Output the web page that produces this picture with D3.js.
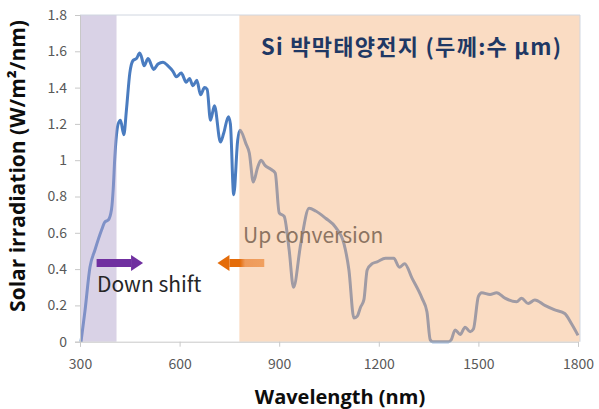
<!DOCTYPE html>
<html><head><meta charset="utf-8">
<script src="https://cdn.jsdelivr.net/npm/d3@7"></script>
<style>body{margin:0;background:#fff}svg{display:block}</style>
</head><body>
<svg id="c" width="599" height="409"></svg>
<script>
const wavelength = [303,315,330,345,365,375,385,395,400,405,415,422,432,440,450,460,470,480,485,493,505,522,535,550,565,580,590,605,620,630,640,652,663,675,683,693,705,723,733,747,753,763,775,782,800,810,822,835,845,858,875,888,900,915,930,943,965,990,1010,1040,1070,1095,1110,1125,1135,1145,1155,1165,1180,1195,1220,1245,1262,1278,1300,1330,1345,1355,1362,1410,1418,1430,1445,1460,1475,1485,1500,1510,1535,1555,1580,1615,1630,1650,1670,1700,1730,1760,1780,1800];
const irradiance = [0,0.17,0.41,0.505,0.615,0.66,0.67,0.73,0.84,1.02,1.20,1.22,1.14,1.28,1.48,1.55,1.56,1.59,1.57,1.52,1.56,1.50,1.53,1.54,1.52,1.49,1.46,1.48,1.43,1.45,1.41,1.44,1.36,1.40,1.39,1.22,1.30,1.10,1.15,1.24,1.20,0.81,1.11,1.165,1.09,1.04,0.88,0.96,1.00,0.97,0.95,0.93,0.71,0.69,0.505,0.30,0.54,0.735,0.72,0.68,0.63,0.54,0.395,0.13,0.14,0.19,0.23,0.395,0.43,0.44,0.46,0.46,0.41,0.43,0.35,0.24,0.165,0.01,0,0,0.01,0.065,0.04,0.08,0.055,0.07,0.25,0.27,0.26,0.27,0.24,0.22,0.24,0.21,0.23,0.20,0.175,0.155,0.10,0.035];
const xTicks = [300,600,900,1200,1500,1800];
const yTicks = [0,0.2,0.4,0.6,0.8,1,1.2,1.4,1.6,1.8];
const regions = [
  {from:300, to:410, color:"rgba(179,165,205,0.5)"},
  {from:780, to:1806, color:"rgba(245,185,135,0.5)"}
];
const title = "Si 박막태양전지 (두께:수 µm)";
const xLabel = "Wavelength (nm)";
const yLabel = "Solar irradiation (W/m²/nm)";

const svg = d3.select("#c");
const m = {l:80, r:19, t:15, b:67.3};
const W = 599, H = 409;
const x = d3.scaleLinear().domain([300,1800]).range([m.l, W-m.r-2]);
const y = d3.scaleLinear().domain([0,1.8]).range([H-m.b, m.t]);

const data = wavelength.map((w,i)=>({w, v:irradiance[i]}));
const line = d3.line().x(d=>x(d.w)).y(d=>y(d.v)).curve(d3.curveMonotoneX);

svg.append("path").datum(data).attr("d", line)
  .attr("fill","none").attr("stroke","#4a7cc0").attr("stroke-width",3)
  .attr("stroke-linejoin","round");

svg.selectAll("rect.reg").data(regions).enter().append("rect")
  .attr("x", d=>x(d.from)).attr("width", d=>x(d.to)-x(d.from))
  .attr("y", y(1.8)).attr("height", y(0)-y(1.8))
  .attr("fill", d=>d.color);

// plot border top/right
svg.append("path")
  .attr("d", `M${x(300)},${y(1.8)}H${x(1806)}V${y(0)}`)
  .attr("fill","none").attr("stroke","#d0d6e0").attr("stroke-width",1);

const fontTick = "'Noto Sans CJK KR', 'Noto Sans', sans-serif";
const xAxis = svg.append("g").attr("transform",`translate(0,${y(0)})`)
  .call(d3.axisBottom(x).tickValues(xTicks).tickSize(5).tickPadding(12).tickFormat(d3.format("d")));
const yAxis = svg.append("g").attr("transform",`translate(${m.l},0)`)
  .call(d3.axisLeft(y).tickValues(yTicks).tickSize(5).tickPadding(8).tickFormat(d=>d3.format("")(+d.toFixed(1))));
[xAxis,yAxis].forEach(g=>{
  g.selectAll(".domain").attr("stroke","#c8c8c8");
  g.selectAll(".tick line").attr("stroke","#c8c8c8");
  g.selectAll(".tick text").attr("fill","#595959").style("font-family",fontTick).style("font-size","14px");
});

// arrows
function arrow(x0, x1, yc, shaftColor, headColor){
  const dir = Math.sign(x1-x0);
  const headLen = 12, shaftH = 8, headH = 16;
  const xs = x1 - dir*headLen;
  svg.append("rect").attr("x", Math.min(x0,xs)).attr("width", Math.abs(xs-x0))
    .attr("y", yc-shaftH/2).attr("height", shaftH).attr("fill", shaftColor);
  svg.append("path").attr("d", `M${xs},${yc-headH/2}L${x1},${yc}L${xs},${yc+headH/2}Z`).attr("fill", headColor);
}
arrow(x(350), x(490), 263, "#7030a0", "#7030a0");
{
  const g = svg.append("defs").append("linearGradient").attr("id","og");
  g.append("stop").attr("offset","0").attr("stop-color","#e46c0a");
  g.append("stop").attr("offset","0.3").attr("stop-color","#e46c0a");
  g.append("stop").attr("offset","0.45").attr("stop-color","#ee9a5a");
  g.append("stop").attr("offset","1").attr("stop-color","#f0a060");
  const yc = 263, x0 = x(855), x1 = x(714), headLen = 12;
  svg.append("rect").attr("x", x1+headLen).attr("width", x0-x1-headLen).attr("y", yc-4).attr("height", 8).attr("fill","url(#og)");
  svg.append("path").attr("d", `M${x1+headLen},${yc-8}L${x1},${yc}L${x1+headLen},${yc+8}Z`).attr("fill","#e46c0a");
}

const fontLab = "'Noto Sans CJK KR', 'Noto Sans', sans-serif";
svg.append("text").attr("x", 97).attr("y", 292).text("Down shift")
  .style("font-family",fontLab).style("font-size","21px").attr("fill","#262626");
svg.append("text").attr("x", 243).attr("y", 243).text("Up conversion")
  .style("font-family",fontLab).style("font-size","21px").attr("fill","#8c7462");
svg.append("text").attr("x", 261).attr("y", 55).text(title)
  .attr("textLength", 300).attr("lengthAdjust","spacing")
  .style("font-family",fontLab).style("font-size","22px").style("font-weight","bold").attr("fill","#1f3864");

svg.append("text").attr("x", 340).attr("y", 404).attr("text-anchor","middle").text(xLabel)
  .style("font-family","'Open Sans', sans-serif").style("font-size","20px").style("font-weight","bold").attr("fill","#0d0d0d");
svg.append("text").attr("transform",`translate(25,166) rotate(-90)`).attr("text-anchor","middle").text(yLabel)
  .style("font-family","'Open Sans', sans-serif").style("font-size","21px").style("font-weight","bold").attr("fill","#0d0d0d");
</script>
</body></html>
